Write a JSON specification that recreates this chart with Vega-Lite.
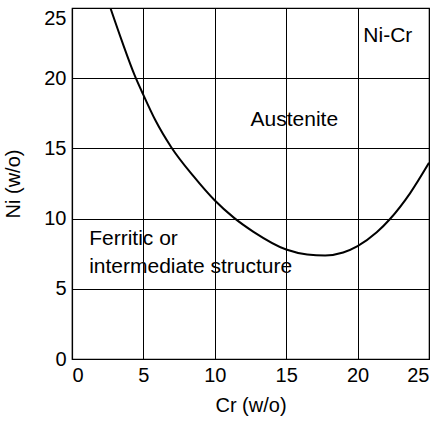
{
  "$schema": "https://vega.github.io/schema/vega-lite/v6.json",
  "width": 357,
  "height": 351,
  "autosize": {"type": "none"},
  "padding": {"left": 72, "top": 8, "right": 9, "bottom": 64},
  "background": "white",
  "config": {
    "view": {"stroke": "black", "strokeWidth": 1.2},
    "font": "Liberation Sans",
    "axis": {
      "gridColor": "black",
      "gridOpacity": 1,
      "gridWidth": 1,
      "domainColor": "black",
      "domainWidth": 1.2,
      "ticks": false,
      "labelFontSize": 20,
      "labelColor": "black",
      "titleFontSize": 20,
      "titleFontWeight": "normal",
      "titleColor": "black",
      "labelFont": "Liberation Sans",
      "titleFont": "Liberation Sans"
    }
  },
  "datasets": {
    "curve": [
      {"cr": 2.69, "ni": 25},
      {"cr": 3.51, "ni": 22.6},
      {"cr": 4.39, "ni": 20.2},
      {"cr": 4.98, "ni": 18.85},
      {"cr": 5.84, "ni": 17.0},
      {"cr": 6.94, "ni": 15.1},
      {"cr": 8.52, "ni": 13.0},
      {"cr": 9.97, "ni": 11.32},
      {"cr": 11.35, "ni": 10.05},
      {"cr": 12.71, "ni": 9.06},
      {"cr": 15.0, "ni": 7.8},
      {"cr": 16.47, "ni": 7.45},
      {"cr": 17.73, "ni": 7.38},
      {"cr": 18.99, "ni": 7.59},
      {"cr": 20.0, "ni": 8.04},
      {"cr": 21.34, "ni": 9.02},
      {"cr": 22.27, "ni": 9.97},
      {"cr": 23.67, "ni": 11.8},
      {"cr": 25.0, "ni": 13.97}
    ],
    "labels": [
      {"cr": 20.4, "ni": 22.6, "text": "Ni-Cr"},
      {"cr": 12.5, "ni": 16.6, "text": "Austenite"},
      {"cr": 1.2, "ni": 8.1, "text": "Ferritic or"},
      {"cr": 1.2, "ni": 6.15, "text": "intermediate structure"}
    ]
  },
  "layer": [
    {
      "data": {"name": "curve"},
      "mark": {"type": "line", "color": "black", "strokeWidth": 2, "interpolate": "monotone", "clip": true},
      "encoding": {
        "x": {"field": "cr", "type": "quantitative", "scale": {"domain": [0, 25], "nice": false}, "axis": {"values": [0, 5, 10, 15, 20, 25], "title": "Cr (w/o)", "labelPadding": 6, "titlePadding": 10}},
        "y": {"field": "ni", "type": "quantitative", "scale": {"domain": [0, 25], "nice": false}, "axis": {"values": [0, 5, 10, 15, 20, 25], "title": "Ni (w/o)", "labelPadding": 6, "titlePadding": 20, "labelBaseline": {"condition": {"test": "datum.value == 25", "value": "top"}, "value": "middle"}}}
      }
    },
    {
      "data": {"name": "labels"},
      "mark": {"type": "text", "align": "left", "baseline": "alphabetic", "fontSize": 21, "color": "black", "font": "Liberation Sans"},
      "encoding": {
        "x": {"field": "cr", "type": "quantitative"},
        "y": {"field": "ni", "type": "quantitative"},
        "text": {"field": "text"}
      }
    }
  ]
}
